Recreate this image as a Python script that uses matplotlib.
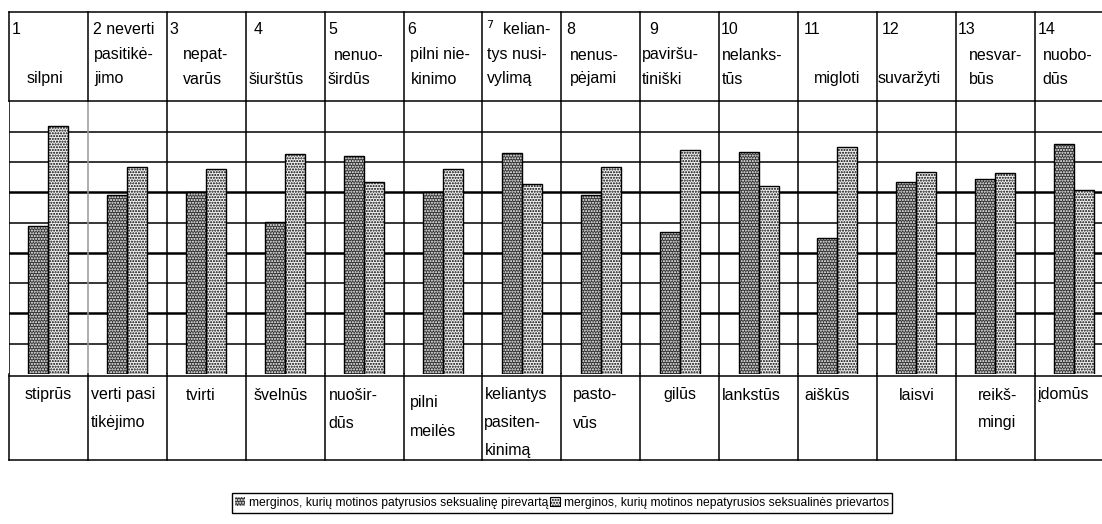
import numpy as np
import matplotlib.pyplot as plt
from matplotlib.patches import Patch

plt.rcParams['font.family'] = ['Liberation Sans', 'DejaVu Sans']
plt.rcParams['hatch.linewidth'] = 1.0

# header row (top table), one list of three text lines per column
header_lines = [
    ["1", "", "silpni"],
    ["2 neverti", "pasitikė-", "jimo"],
    ["3", "nepat-", "varūs"],
    ["4", "", "šiurštūs"],
    ["5", "nenuo-", "širdūs"],
    ["6", "pilni nie-", "kinimo"],
    ["$^7$  kelian-", "tys nusi-", "vylimą"],
    ["8", "nenus-", "pėjami"],
    ["9", "paviršu-", "tiniški"],
    ["10", "nelanks-", "tūs"],
    ["11", "", "migloti"],
    ["12", "", "suvaržyti"],
    ["13", "nesvar-", "būs"],
    ["14", "nuobo-", "dūs"],
]
# bottom row labels
footer_lines = [
    ["stiprūs"],
    ["verti pasi", "tikėjimo"],
    ["tvirti"],
    ["švelnūs"],
    ["nuošir-", "dūs"],
    ["pilni", "meilės"],
    ["keliantys", "pasiten-", "kinimą"],
    ["pasto-", "vūs"],
    ["gilūs"],
    ["lankstūs"],
    ["aiškūs"],
    ["laisvi"],
    ["reikš-", "mingi"],
    ["įdomūs"],
]
abused = [4.88, 5.92, 6.00, 5.03, 7.18, 6.00, 7.29, 5.92, 4.68, 7.34, 4.49, 6.34, 6.42, 7.58]
not_abused = [8.18, 6.82, 6.78, 7.25, 6.33, 6.78, 6.27, 6.82, 7.39, 6.21, 7.50, 6.68, 6.64, 6.06]
legend_labels = ["merginos, kurių motinos patyrusios seksualinę pirevartą",
                 "merginos, kurių motinos nepatyrusios seksualinės prievartos"]

# layout (pixels)
W, H = 1102, 524
left, col_w = 9, 78.9
hdr_top, hdr_bot = 12, 101.3
base = 374
ft_top, ft_bot = 376, 460
hdr_y = [29, 55, 79]
ft_y = [395, 423, 450]
hdr_indent = [[3, 0, 18], [5, 6, 6], [3, 16, 16], [8, 0, 3], [4, 9, 3], [4, 7, 7], [4, 5, 5],
              [5, 9, 9], [9, 2, 2], [2, 3, 3], [6, 0, 16], [5, 0, 1], [2, 13, 13], [3, 8, 8]]
ft_style = [('c', 0), ('l', 3), ('c', -6), ('c', -4), ('l', 4), ('l', 6), ('l', 2),
            ('l', 12), ('c', 0), ('l', 3), ('l', 6), ('c', 0), ('c', 2), ('l', 3)]
ft_shift = [0, 0, 0, 0, 0, 8, 0, 0, 0, 0, 0, 0, 0, 0]
fs = 11.5

n = len(abused)
fig = plt.figure(figsize=(W / 100, H / 100), dpi=100)

ax = fig.add_axes([left / W, 1 - base / H, n * col_w / W, (base - hdr_bot) / H])
ax.set_xlim(0, n)
ax.set_ylim(0, 9)
ax.axis('off')
for v in range(1, 9):
    ax.axhline(v, color='black', lw=1.8 if v in (2, 4, 6) else 1.1, zorder=1)
for i in range(n + 1):
    ax.axvline(i, color='#999999' if i == 1 else 'black', lw=1.1, zorder=1)

x = np.arange(n) + 0.5
w = 20 / col_w
ax.bar(x - w / 2, abused, w, color='#333333', edgecolor='white', hatch='......', lw=0, zorder=2)
ax.bar(x - w / 2, abused, w, fill=False, edgecolor='black', lw=1, zorder=3)
ax.bar(x + w / 2, not_abused, w, color='#f2f2f2', edgecolor='black', hatch='......', lw=1, zorder=2)

# table frame + texts in pixel coordinates
tab = fig.add_axes([0, 0, 1, 1], facecolor='none')
tab.set_xlim(0, W)
tab.set_ylim(H, 0)
tab.axis('off')
xs = [left + i * col_w for i in range(n + 1)]
for y in (hdr_top, hdr_bot, ft_top, ft_bot):
    tab.plot([left, W + 20], [y, y], color='black', lw=1.1)
for xx in xs:
    tab.plot([xx, xx], [hdr_top, hdr_bot], color='black', lw=1.1)
    tab.plot([xx, xx], [base, ft_bot], color='black', lw=1.1)

for i, lines in enumerate(header_lines):
    for j, t in enumerate(lines):
        if t:
            tab.text(xs[i] + hdr_indent[i][j], hdr_y[j], t, fontsize=fs, ha='left', va='center')

for i, lines in enumerate(footer_lines):
    ha, off = ft_style[i]
    xx = xs[i] + off if ha == 'l' else xs[i] + col_w / 2 + off
    for j, t in enumerate(lines):
        tab.text(xx, ft_y[j] + ft_shift[i], t, fontsize=fs,
                 ha='left' if ha == 'l' else 'center', va='center')

handles = [Patch(facecolor='#333333', edgecolor='white', hatch='......', lw=0),
           Patch(facecolor='#f2f2f2', edgecolor='black', hatch='......', lw=0.8)]
leg = fig.legend(handles, legend_labels, loc='center', bbox_to_anchor=(562 / W, 1 - 503 / H),
                 ncol=2, frameon=True, fancybox=False, edgecolor='black', framealpha=1,
                 fontsize=8.7, handlelength=0.8, handleheight=0.8, handletextpad=0.3,
                 columnspacing=0.2, borderpad=0.3)
leg.get_frame().set_linewidth(1)

fig.savefig('out.png', dpi=100)
